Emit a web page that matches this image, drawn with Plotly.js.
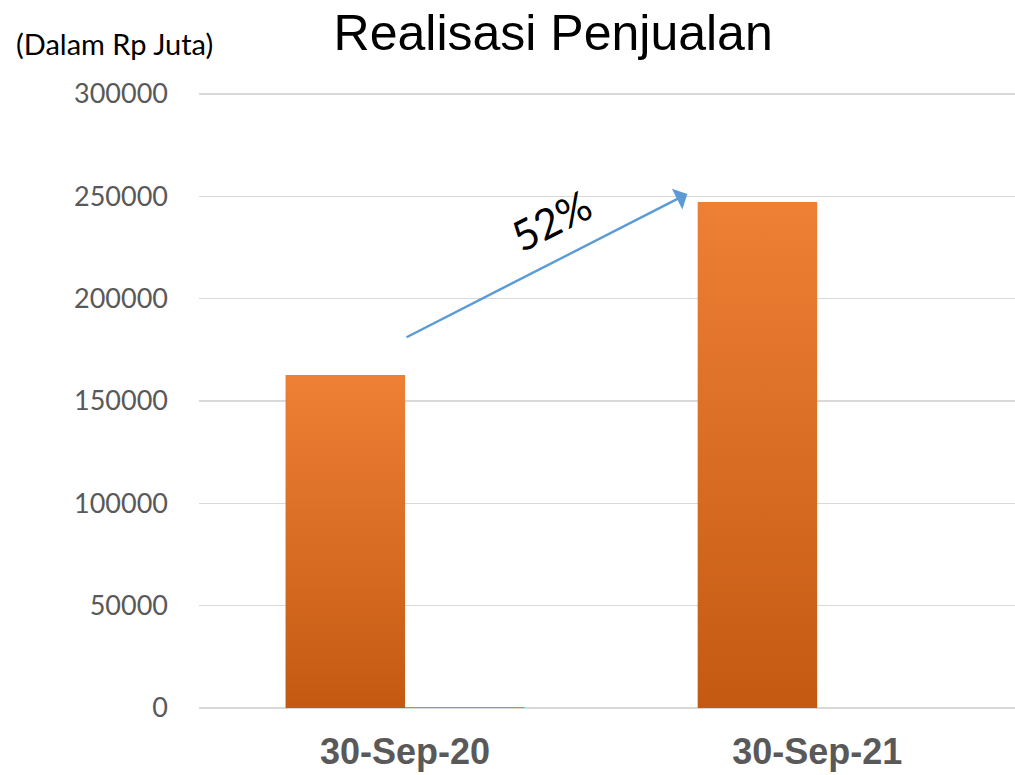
<!DOCTYPE html>
<html>
<head>
<meta charset="utf-8">
<script src="https://cdn.plot.ly/plotly-3.0.1.min.js"></script>
<style>html,body{margin:0;padding:0;background:#fff;}#chart{width:1015px;height:775px;}</style>
</head>
<body>
<div id="chart"></div>
<script>
var categories = ["30-Sep-20", "30-Sep-21"];
var salesValues = [162700, 247200];
var secondValues = [500, 0];
var yTicks = [0, 50000, 100000, 150000, 200000, 250000, 300000];
var growthLabel = "52%";
var titleText = "Realisasi Penjualan";
var unitText = "(Dalam Rp Juta)";

var traces = [
  {type: "bar", x: [0, 1], y: salesValues, marker: {color: "#DB6A22"}, hoverinfo: "skip"},
  {type: "bar", x: [0, 1], y: secondValues, marker: {color: "#ED7D31"}, hoverinfo: "skip"}
];

var layout = {
  width: 1015, height: 775,
  margin: {l: 199, r: 0, t: 92, b: 67},
  paper_bgcolor: "#ffffff", plot_bgcolor: "#ffffff",
  showlegend: false,
  barmode: "group", bargap: 0.42, bargroupgap: 0,
  title: {text: titleText, x: 0.545, xanchor: "center", y: 0.958, yanchor: "middle",
          font: {family: "Liberation Sans, Arial", size: 50, color: "#000000"}},
  xaxis: {range: [-0.5, 1.48], tickvals: [0, 1], ticktext: categories,
          showgrid: false, zeroline: false, showline: false, ticks: "",
          ticklabelstandoff: 19,
          tickfont: {family: "Liberation Sans, Arial", size: 36, color: "#595959", weight: "bold"}},
  yaxis: {range: [0, 300980], tickvals: yTicks, ticktext: yTicks.map(String),
          showgrid: true, gridcolor: "#D9D9D9", gridwidth: 1.5,
          zeroline: true, zerolinecolor: "#D9D9D9", zerolinewidth: 1.5,
          showline: false, ticks: "", ticklabelstandoff: 30,
          tickfont: {family: "Lato, Open Sans, sans-serif", size: 27, color: "#595959"}},
  annotations: [
    {xref: "paper", yref: "paper", x: -0.227, y: 1.0795, xanchor: "left", yanchor: "middle",
     text: unitText, showarrow: false,
     font: {family: "Lato, Open Sans, sans-serif", size: 29, color: "#000000"}},
    {xref: "x", yref: "y", x: 0.685, y: salesValues[1] + 4000, axref: "x", ayref: "y",
     ax: 0, ay: 180800, text: "", showarrow: true, arrowhead: 1, arrowsize: 1.6,
     arrowwidth: 2.4, arrowcolor: "#5B9BD5", standoff: 0},
    {xref: "x", yref: "y", x: 0.355, y: 238500, text: growthLabel, showarrow: false,
     textangle: -27, font: {family: "Lato, Open Sans, sans-serif", size: 42, color: "#000000"}}
  ]
};

function applyGradient(gd) {
  var svg = gd.querySelector("svg.main-svg");
  if (!svg) return;
  var defs = svg.querySelector("defs");
  if (!svg.querySelector("#barGrad")) {
    var ns = "http://www.w3.org/2000/svg";
    var g = document.createElementNS(ns, "linearGradient");
    g.setAttribute("id", "barGrad");
    g.setAttribute("x1", "0"); g.setAttribute("y1", "0");
    g.setAttribute("x2", "0"); g.setAttribute("y2", "1");
    var s1 = document.createElementNS(ns, "stop");
    s1.setAttribute("offset", "0"); s1.setAttribute("stop-color", "#EE8035");
    var s2 = document.createElementNS(ns, "stop");
    s2.setAttribute("offset", "1"); s2.setAttribute("stop-color", "#C45A12");
    g.appendChild(s1); g.appendChild(s2);
    defs.appendChild(g);
  }
  var tr = gd.querySelectorAll(".barlayer .trace")[0];
  if (tr) tr.querySelectorAll("path").forEach(function (p) { p.style.fill = "url(#barGrad)"; });
}

var gd = document.getElementById("chart");
Plotly.newPlot(gd, traces, layout, {staticPlot: true, displayModeBar: false}).then(function () {
  applyGradient(gd);
  gd.on("plotly_afterplot", function () { applyGradient(gd); });
});
</script>
</body>
</html>
